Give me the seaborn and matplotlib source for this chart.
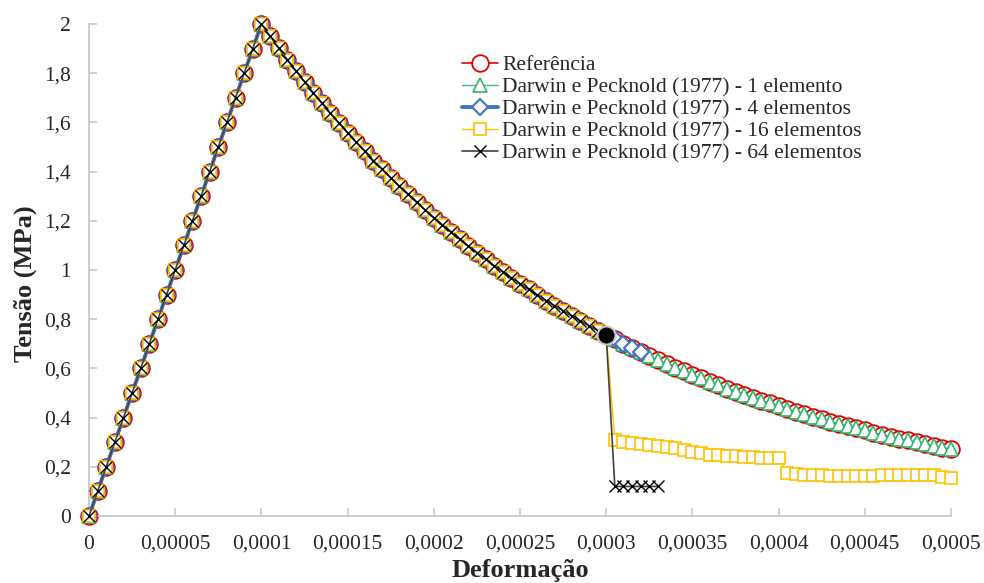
import matplotlib
matplotlib.use('Agg')
import matplotlib.pyplot as plt
import seaborn as sns
import pandas as pd

# strain in micro-strain (x 1e-6), every 5 ue
strain_ue = [0, 5, 10, 15, 20, 25, 30, 35, 40, 45, 50, 55, 60, 65, 70, 75, 80, 85, 90, 95, 100,
             105, 110, 115, 120, 125, 130, 135, 140, 145, 150, 155, 160, 165, 170, 175, 180,
             185, 190, 195, 200, 205, 210, 215, 220, 225, 230, 235, 240, 245, 250, 255, 260,
             265, 270, 275, 280, 285, 290, 295, 300, 305, 310, 315, 320, 325, 330, 335, 340,
             345, 350, 355, 360, 365, 370, 375, 380, 385, 390, 395, 400, 405, 410, 415, 420,
             425, 430, 435, 440, 445, 450, 455, 460, 465, 470, 475, 480, 485, 490, 495, 500]

# reference curve (MPa)
stress_ref = [0.0, 0.1, 0.2, 0.3, 0.4, 0.5, 0.6, 0.7, 0.8, 0.9, 1.0, 1.1, 1.2, 1.3, 1.4, 1.5,
              1.6, 1.7, 1.8, 1.9, 2.0,
              1.951, 1.902, 1.855, 1.810, 1.765, 1.721, 1.679, 1.637, 1.597, 1.558, 1.519,
              1.482, 1.445, 1.409, 1.375, 1.341, 1.308, 1.275, 1.244, 1.213, 1.183, 1.154,
              1.125, 1.098, 1.071, 1.044, 1.018, 0.993, 0.969, 0.945, 0.921, 0.899, 0.876,
              0.855, 0.834, 0.813, 0.793, 0.773, 0.754, 0.736, 0.718, 0.700, 0.683, 0.666,
              0.649, 0.633, 0.618, 0.602, 0.588, 0.573, 0.559, 0.545, 0.532, 0.518, 0.506,
              0.493, 0.481, 0.469, 0.458, 0.446, 0.435, 0.424, 0.414, 0.404, 0.394, 0.384,
              0.375, 0.365, 0.356, 0.348, 0.339, 0.331, 0.322, 0.314, 0.307, 0.299, 0.292,
              0.285, 0.278, 0.271]

# 1 elemento follows the reference over the whole range
stress_1el = stress_ref

# 4 elementos: stops at 320 ue
blue_end_ue = 320

# 16 elementos: after 300 ue
strain_16_tail = [305, 310, 315, 320, 325, 330, 335, 340, 345, 350, 355, 360, 365, 370, 375,
                  380, 385, 390, 395, 400, 405, 410, 415, 420, 425, 430, 435, 440, 445, 450,
                  455, 460, 465, 470, 475, 480, 485, 490, 495, 500]
stress_16_tail = [0.31, 0.302, 0.296, 0.293, 0.289, 0.286, 0.282, 0.278, 0.27, 0.262, 0.256,
                  0.25, 0.246, 0.243, 0.242, 0.24, 0.238, 0.237, 0.236, 0.235,
                  0.175, 0.17, 0.166, 0.165, 0.165, 0.164, 0.164, 0.164, 0.164, 0.164,
                  0.164, 0.165, 0.165, 0.165, 0.166, 0.167, 0.168, 0.168, 0.16, 0.155]

# 64 elementos: after 300 ue
strain_64_tail = [305, 310, 315, 320, 325, 330]
stress_64_tail = [0.12, 0.12, 0.12, 0.12, 0.12, 0.12]

# highlighted point
peak_soft_ue = 300
peak_soft_stress = 0.736

df = pd.DataFrame({'x': [s * 1e-6 for s in strain_ue], 'ref': stress_ref})
split = strain_ue.index(300)
x_pre = df['x'][:split + 1].tolist()
y_pre = df['ref'][:split + 1].tolist()
blue_idx = strain_ue.index(blue_end_ue)

x16 = x_pre + [s * 1e-6 for s in strain_16_tail]
y16 = y_pre + stress_16_tail
x64 = x_pre + [s * 1e-6 for s in strain_64_tail]
y64 = y_pre + stress_64_tail

sns.set_theme(style='white')
plt.rcParams['font.family'] = ['Liberation Serif', 'DejaVu Serif']

fig = plt.figure(figsize=(9.84, 5.83), dpi=100)
ax = fig.add_axes([89 / 984, 1 - 516 / 583, (951 - 89) / 984, (516 - 24) / 583])

common = dict(ax=ax, sort=False, estimator=None, clip_on=False)

sns.lineplot(x=df['x'], y=df['ref'], color='#E00000', linewidth=1.2, marker='o',
             markersize=12, markerfacecolor='white', markeredgecolor='#E00000',
             markeredgewidth=1.3, label='Referência', zorder=2, **common)
sns.lineplot(x=df['x'], y=stress_1el, color='#33C070', linewidth=1.0, marker='^',
             markersize=9.5, markerfacecolor='white', markeredgecolor='#33B36B',
             markeredgewidth=1.2, label='Darwin e Pecknold (1977) - 1 elemento',
             zorder=3, **common)
sns.lineplot(x=df['x'][:blue_idx + 1], y=df['ref'][:blue_idx + 1], color='#4472C4',
             linewidth=2.8, marker='D', markersize=8, markerfacecolor='white',
             markeredgecolor='#4472C4', markeredgewidth=1.5,
             label='Darwin e Pecknold (1977) - 4 elementos', zorder=4, **common)
sns.lineplot(x=x16, y=y16, color='#FFC000', linewidth=1.0, marker='s', markersize=9,
             markerfacecolor='white', markeredgecolor='#FFC000', markeredgewidth=1.2,
             label='Darwin e Pecknold (1977) - 16 elementos', zorder=5, **common)
sns.lineplot(x=x64, y=y64, color='#404040', linewidth=1.2, marker='x', markersize=8,
             markeredgecolor='black', markeredgewidth=1.0,
             label='Darwin e Pecknold (1977) - 64 elementos', zorder=6, **common)
ax.plot([peak_soft_ue * 1e-6], [peak_soft_stress], 'o', markersize=13,
        markerfacecolor='black', markeredgecolor='#C8C8C8', markeredgewidth=1.5, zorder=7)

ax.set_xlim(0, 0.0005)
ax.set_ylim(0, 2)
xticks = [0, 5e-5, 1e-4, 1.5e-4, 2e-4, 2.5e-4, 3e-4, 3.5e-4, 4e-4, 4.5e-4, 5e-4]
xlabels = ['0', '0,00005', '0,0001', '0,00015', '0,0002', '0,00025', '0,0003',
           '0,00035', '0,0004', '0,00045', '0,0005']
yticks = [0, 0.2, 0.4, 0.6, 0.8, 1.0, 1.2, 1.4, 1.6, 1.8, 2.0]
ylabels = ['0', '0,2', '0,4', '0,6', '0,8', '1', '1,2', '1,4', '1,6', '1,8', '2']
ax.set_xticks(xticks)
ax.set_xticklabels(xlabels)
ax.set_yticks(yticks)
ax.set_yticklabels(ylabels)

for side in ['top', 'right']:
    ax.spines[side].set_visible(False)
for side in ['left', 'bottom']:
    ax.spines[side].set_color('#C8C8C8')
    ax.spines[side].set_linewidth(1.3)
ax.tick_params(axis='x', direction='in', length=6, width=1.2, color='#C8C8C8',
               labelsize=15.5, pad=13.5, bottom=True)
ax.tick_params(axis='y', direction='in', length=6, width=1.2, color='#C8C8C8',
               labelsize=15.5, pad=13, left=True)

ax.set_xlabel('Deformação', fontsize=19, fontweight='bold')
ax.set_ylabel('Tensão (MPa)', fontsize=19, fontweight='bold')
ax.xaxis.set_label_coords(0.5, -0.088)
ax.yaxis.set_label_coords(-0.060, 0.4715)

leg = ax.legend(loc='upper left', bbox_to_anchor=(0.4327, 0.937), frameon=False,
                fontsize=15.5, handlelength=1.65, handletextpad=0.23, labelspacing=0.1,
                borderpad=0, borderaxespad=0)

fig.savefig('out.png', dpi=100)
